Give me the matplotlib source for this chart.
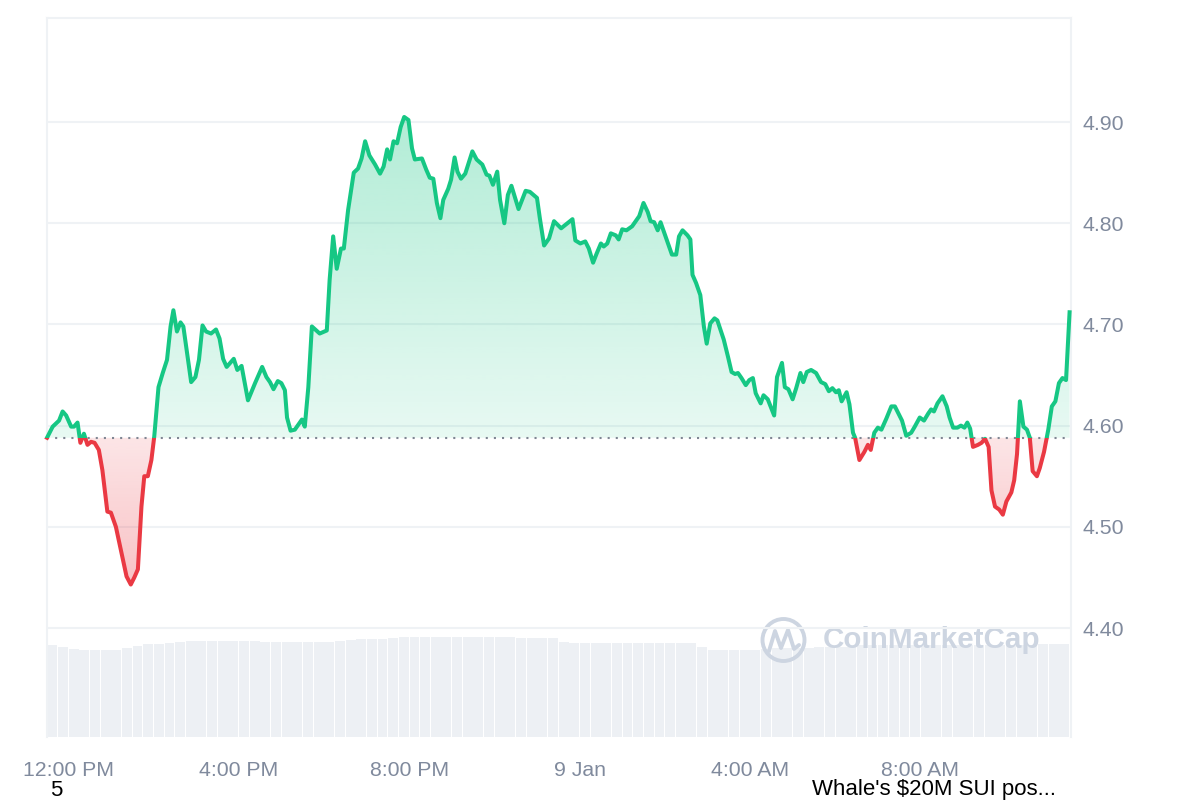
import numpy as np
import matplotlib
matplotlib.use("Agg")
import matplotlib.pyplot as plt
from matplotlib.patches import Rectangle, Circle
from matplotlib.path import Path
from matplotlib.colors import to_rgb

plt.rcParams['font.family'] = ['Liberation Sans', 'DejaVu Sans']

# ---- data: minutes since 11:30 AM (8 Jan), price in USD ----
minutes = [0, 8, 17, 22, 27, 34, 38, 43, 47, 52, 57, 62, 67, 73, 78, 85, 90, 97, 104, 112,
           118, 123, 128, 133, 137, 142, 147, 151, 157, 163, 169, 174, 178, 183, 188, 192, 198, 203, 209, 214,
           219, 224, 231, 238, 243,
           248, 253, 263, 268, 274, 283, 293, 303, 309, 314, 319, 325, 330, 335, 338, 343, 349, 359, 363, 368,
           373, 384, 394, 398, 403, 408, 414, 418, 424, 432, 438, 443, 448, 454, 462, 469, 474, 479, 483, 488, 493,
           498, 503, 509, 514, 518, 528, 534, 539, 544, 549, 554, 558, 565, 569, 574, 578, 583, 589, 599, 605,
           613, 619, 623, 628, 634, 638, 644, 649, 654, 664, 674, 680, 690, 694, 700, 707, 714, 724, 733, 740,
           744, 751,
           758, 763, 769, 774, 780, 784, 789, 794, 801, 805, 810, 816, 824, 834, 840, 846, 850, 855, 860, 864,
           871, 880, 886, 890, 895, 902, 906, 909, 914, 920, 925, 929, 934, 940, 944, 953, 959, 964, 969, 973,
           978, 984, 989, 994, 998,
           1005, 1009, 1015, 1020, 1024, 1028, 1035, 1039, 1044, 1050, 1055, 1061, 1065, 1070, 1076, 1083, 1090,
           1096, 1101, 1106, 1111, 1115, 1119, 1126, 1130, 1135, 1138, 1144, 1151, 1156, 1160, 1165, 1170, 1175,
           1182, 1189, 1194, 1199, 1204, 1210, 1217,
           1222, 1229, 1235, 1241, 1245, 1249, 1254, 1261, 1267, 1271, 1276, 1282, 1287, 1292, 1296, 1300, 1304,
           1311, 1316, 1321, 1326, 1330, 1335, 1341, 1346, 1351, 1358, 1362, 1366, 1368, 1370, 1375, 1380, 1384,
           1388, 1394, 1398, 1404, 1410, 1415, 1420, 1425, 1430, 1435, 1440]
prices = [4.588, 4.599, 4.605, 4.614, 4.610, 4.599, 4.599, 4.603, 4.583, 4.592, 4.581, 4.584, 4.583, 4.576,
          4.556, 4.515, 4.514, 4.500, 4.477, 4.451, 4.443, 4.450, 4.458, 4.520, 4.550, 4.550, 4.566, 4.589,
          4.638, 4.652, 4.665, 4.698, 4.714, 4.693, 4.702, 4.698, 4.668, 4.643, 4.648, 4.665, 4.699, 4.693,
          4.691, 4.695, 4.686,
          4.666, 4.658, 4.666, 4.655, 4.659, 4.625, 4.642, 4.658, 4.648, 4.643, 4.636, 4.644, 4.642, 4.635,
          4.608, 4.595, 4.596, 4.606, 4.599, 4.638, 4.698, 4.691, 4.694, 4.744, 4.787, 4.755, 4.775, 4.775,
          4.813, 4.850, 4.854, 4.864, 4.881, 4.867, 4.858, 4.849, 4.856, 4.873, 4.863, 4.881, 4.879,
          4.895, 4.905, 4.902, 4.874, 4.863, 4.864, 4.853, 4.845, 4.844, 4.820, 4.805, 4.823, 4.834, 4.843,
          4.865, 4.851, 4.844, 4.849, 4.871, 4.863, 4.858, 4.848, 4.847, 4.838, 4.851, 4.823, 4.800, 4.828,
          4.837, 4.814, 4.832, 4.831, 4.825, 4.805, 4.778, 4.785, 4.802, 4.795, 4.800, 4.804, 4.783, 4.780,
          4.782, 4.775, 4.761, 4.770, 4.780, 4.777, 4.780, 4.790, 4.788, 4.784, 4.794, 4.793, 4.797, 4.807,
          4.820, 4.811, 4.802, 4.801, 4.793, 4.801, 4.787, 4.769, 4.769, 4.787, 4.793, 4.788, 4.784, 4.749,
          4.741, 4.729, 4.698, 4.681, 4.701, 4.706, 4.704, 4.685, 4.668, 4.653, 4.651, 4.652, 4.647, 4.640,
          4.645, 4.647, 4.632,
          4.622, 4.630, 4.626, 4.617, 4.610, 4.648, 4.662, 4.638, 4.636, 4.626, 4.637, 4.652, 4.643, 4.653,
          4.655, 4.652, 4.643, 4.641, 4.634, 4.637, 4.633, 4.635, 4.624, 4.633, 4.621, 4.593, 4.588, 4.566,
          4.574, 4.581, 4.576, 4.593, 4.598, 4.596, 4.607, 4.619, 4.619, 4.612, 4.605, 4.590, 4.593,
          4.599, 4.608, 4.605, 4.612, 4.616, 4.614, 4.622, 4.629, 4.619, 4.608, 4.598, 4.598, 4.600, 4.598,
          4.603, 4.597, 4.579, 4.581, 4.583, 4.587, 4.579, 4.536, 4.520, 4.517, 4.512, 4.525, 4.534, 4.546,
          4.572, 4.599, 4.624, 4.599, 4.596, 4.588, 4.555, 4.550, 4.558, 4.574, 4.596, 4.619, 4.624, 4.642,
          4.647, 4.645, 4.712]

# volume per 15-minute bucket, $M
volume_m = [920, 900, 885, 870, 870, 870, 870, 890, 910, 927, 927, 937, 950,
            963, 963, 963, 963, 963, 963, 963,
            947, 947, 947, 947, 947, 947, 947,
            963, 970, 980, 980, 980, 995,
            1000, 1000, 1000, 1000, 1000, 1000, 1000, 1000, 1000, 1000, 1000,
            990, 990, 990, 990, 950,
            940, 940, 940, 940, 940, 940, 940, 940, 940, 940, 940, 940,
            900, 870, 870, 870, 870, 870, 885, 890, 890, 890, 890,
            905, 905, 905, 905,
            920, 920, 920, 920, 920, 920, 920, 920, 920, 920, 920, 920, 920, 920, 920, 920, 920,
            930, 930, 930]

tick_minutes = [30, 270, 510, 750, 990, 1230]
tick_labels = ["12:00 PM", "4:00 PM", "8:00 PM", "9 Jan", "4:00 AM", "8:00 AM"]
price_ticks = [4.40, 4.50, 4.60, 4.70, 4.80, 4.90]

GREEN = '#16c784'
RED = '#ea3943'
GRID = '#eff2f5'
LABEL = '#808a9d'
WM = '#cdd5e1'

t = np.array(minutes, dtype=float)
p = np.array(prices)
base = p[0]
ylo, yhi = 4.2923, 5.0028
xlo, xhi = 0, 1442

fig = plt.figure(figsize=(12, 8), dpi=100)
ax = fig.add_axes([47 / 1200, 63 / 800, 1024 / 1200, 719 / 800])
axv = ax.twinx()
ax.set_zorder(axv.get_zorder() + 1)
ax.patch.set_visible(False)

# volume bars
vol_x = np.arange(len(volume_m)) * 15 + 7.5
axv.bar(vol_x, volume_m, width=15 * 0.93, color='#edf0f4', linewidth=0)
axv.set_ylim(0, 7190)
axv.set_yticks([])
for s in axv.spines.values():
    s.set_visible(False)


def gradient_fill(above, color, a_near, a_far):
    where = p >= base if above else p <= base
    coll = ax.fill_between(t, p, base, where=where, interpolate=True,
                           facecolor='none', edgecolor='none')
    clip = Path.make_compound_path(*coll.get_paths())
    r, g, b = to_rgb(color)
    n = 256
    grad = np.zeros((n, 1, 4))
    grad[..., 0], grad[..., 1], grad[..., 2] = r, g, b
    if above:
        lo, hi = base, p.max()
        grad[:, 0, 3] = np.linspace(a_near, a_far, n)
    else:
        lo, hi = p.min(), base
        grad[:, 0, 3] = np.linspace(a_far, a_near, n)
    im = ax.imshow(grad, extent=[t[0], t[-1], lo, hi], origin='lower',
                   aspect='auto', interpolation='bilinear', zorder=1)
    im.set_clip_path(clip, transform=ax.transData)


gradient_fill(True, GREEN, 0.10, 0.33)
gradient_fill(False, RED, 0.13, 0.31)

ax.axhline(base, color='#7f8693', lw=1.5, linestyle=(0, (1, 2.9)), zorder=2)

up, = ax.plot(t, p, color=GREEN, lw=2.9, solid_joinstyle='round', zorder=3)
up.set_clip_path(Rectangle((xlo - 50, base), 3000, 10, transform=ax.transData))
dn, = ax.plot(t, p, color=RED, lw=2.9, solid_joinstyle='round', zorder=3)
dn.set_clip_path(Rectangle((xlo - 50, base - 10), 3000, 10, transform=ax.transData))

ax.set_xlim(xlo, xhi)
ax.set_ylim(ylo, yhi)
axv.set_xlim(xlo, xhi)

ax.set_yticks(price_ticks)
ax.yaxis.set_major_formatter('{x:.2f}')
ax.yaxis.tick_right()
ax.grid(axis='y', color=GRID, lw=1.5)
ax.set_axisbelow(True)
ax.tick_params(axis='y', length=0, pad=8, labelsize=15.3, labelcolor=LABEL)
ax.set_xticks(tick_minutes, tick_labels)
ax.tick_params(axis='x', length=0, pad=17, labelsize=15.3, labelcolor=LABEL)
ax.spines['bottom'].set_visible(False)
for k in ('top', 'left', 'right'):
    ax.spines[k].set_color(GRID)
    ax.spines[k].set_linewidth(1.5)

# overlay in pixel coordinates for watermark and page text
ov = fig.add_axes([0, 0, 1, 1])
ov.set_xlim(0, 1200)
ov.set_ylim(800, 0)
ov.axis('off')
ov.add_patch(Circle((783.5, 640), 21, fill=False, ec=WM, lw=2.8))
ov.plot([769, 775, 781, 788, 794, 799], [651, 631, 648, 630, 649, 645],
        color=WM, lw=2.8, solid_joinstyle='round', solid_capstyle='round')
ov.text(823, 640, "CoinMarketCap", fontsize=21.3, fontweight='bold', color=WM,
        ha='left', va='center')
ov.text(56, 790, "5", fontsize=16, color='black', ha='center', va='center')
ov.text(812, 790, "Whale's $20M SUI pos...", fontsize=16, color='black',
        ha='left', va='center')

fig.savefig('out.png', dpi=100, facecolor='white')
